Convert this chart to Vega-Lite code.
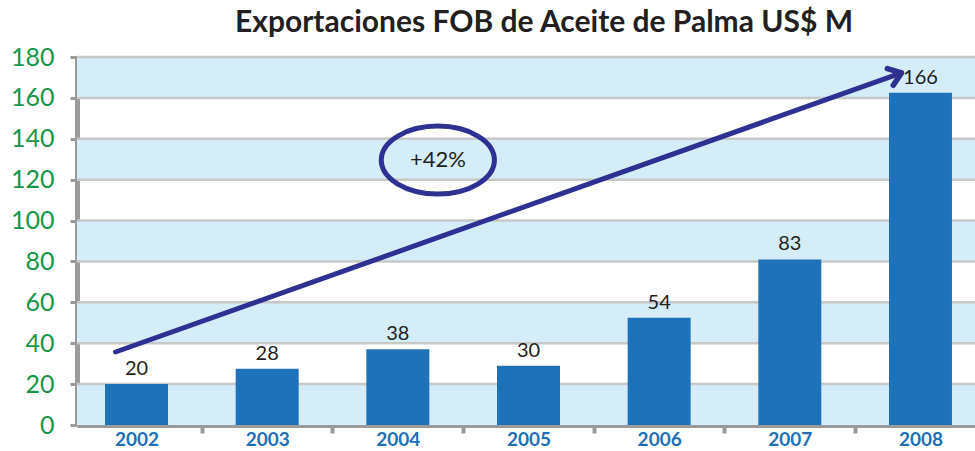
{
  "$schema": "https://vega.github.io/schema/vega-lite/v6.json",
  "width": 898,
  "height": 368,
  "autosize": {"type": "none"},
  "padding": {"left": 77, "top": 57, "right": 0, "bottom": 26},
  "background": "white",
  "config": {"view": {"stroke": null}, "font": "Lato"},
  "title": {
    "text": "Exportaciones FOB de Aceite de Palma US$ M",
    "font": "Lato",
    "fontSize": 30,
    "fontWeight": "bold",
    "color": "#231f20",
    "anchor": "middle",
    "frame": "group",
    "dx": 18,
    "dy": 31,
    "baseline": "alphabetic",
    "offset": 14
  },
  "datasets": {
    "years": [
      {"year": "2002", "bar": 20, "label": "20"},
      {"year": "2003", "bar": 27.5, "label": "28"},
      {"year": "2004", "bar": 37, "label": "38"},
      {"year": "2005", "bar": 29, "label": "30"},
      {"year": "2006", "bar": 52.5, "label": "54"},
      {"year": "2007", "bar": 81, "label": "83"},
      {"year": "2008", "bar": 162.5, "label": "166"}
    ],
    "bands": [
      {"lo": 0, "hi": 20},
      {"lo": 40, "hi": 60},
      {"lo": 80, "hi": 100},
      {"lo": 120, "hi": 140},
      {"lo": 160, "hi": 180}
    ],
    "grid": [{"v": 20}, {"v": 40}, {"v": 60}, {"v": 80}, {"v": 100}, {"v": 120}, {"v": 140}, {"v": 160}, {"v": 180}],
    "arrow": [{"from": "2002", "to": "2008", "y1": 35.7, "y2": 172.2}],
    "note": [{"year": "2004", "y": 129.6, "text": "+42%"}]
  },
  "layer": [
    {
      "data": {"name": "bands"},
      "mark": {"type": "rect", "color": "#d4edf9"},
      "encoding": {
        "y": {"field": "lo", "type": "quantitative", "scale": {"domain": [0, 180]}},
        "y2": {"field": "hi"}
      }
    },
    {
      "data": {"name": "grid"},
      "mark": {"type": "rule", "color": "#c8c8c8", "strokeWidth": 2.5},
      "encoding": {
        "y": {"field": "v", "type": "quantitative"}
      }
    },
    {
      "data": {"name": "years"},
      "mark": {"type": "bar", "color": "#1f71b8"},
      "encoding": {
        "x": {
          "field": "year", "type": "nominal",
          "scale": {"range": [0, 903], "paddingInner": 0.518, "paddingOuter": 0.2146},
          "axis": {
            "title": null,
            "labelAngle": 0,
            "labelFont": "Lato",
            "labelFontSize": 19,
            "labelFontWeight": "bold",
            "labelColor": "#1f6fb5",
            "labelPadding": 12,
            "labelBaseline": "alphabetic",
            "tickOffset": 65.3,
            "labelOffset": -65.3,
            "tickColor": "#9b9b9b",
            "tickWidth": 4,
            "tickSize": 8,
            "domainColor": "#9b9b9b",
            "domainWidth": 5,
            "grid": false
          }
        },
        "y": {
          "field": "bar", "type": "quantitative",
          "scale": {"domain": [0, 180]},
          "axis": {
            "title": null,
            "values": [0, 20, 40, 60, 80, 100, 120, 140, 160, 180],
            "labelFont": "Lato",
            "labelFontSize": 25,
            "labelColor": "#15964a",
            "labelPadding": 16,
            "tickColor": "#9b9b9b",
            "tickWidth": 3,
            "tickSize": 7,
            "domainColor": "#9b9b9b",
            "domainWidth": 5,
            "grid": false
          }
        }
      }
    },
    {
      "data": {"name": "years"},
      "mark": {"type": "text", "font": "Lato", "fontSize": 20, "color": "#231f20", "baseline": "bottom", "dy": -5},
      "encoding": {
        "x": {"field": "year", "type": "nominal"},
        "y": {"field": "bar", "type": "quantitative"},
        "text": {"field": "label"}
      }
    },
    {
      "data": {"name": "arrow"},
      "mark": {"type": "rule", "color": "#2e3192", "strokeWidth": 5, "strokeCap": "round", "xOffset": -21, "x2Offset": -19},
      "encoding": {
        "x": {"field": "from", "type": "nominal"},
        "x2": {"field": "to"},
        "y": {"field": "y1", "type": "quantitative"},
        "y2": {"field": "y2"}
      }
    },
    {
      "data": {"name": "arrow"},
      "mark": {"type": "point", "shape": "M -1 -0.75 L 0 0 L -1 0.75", "filled": false, "stroke": "#2e3192", "strokeWidth": 5.5, "strokeCap": "round", "strokeJoin": "round", "size": 560, "angle": 340.5, "opacity": 1, "xOffset": -19},
      "encoding": {
        "x": {"field": "to", "type": "nominal"},
        "y": {"field": "y2", "type": "quantitative"}
      }
    },
    {
      "data": {"name": "note"},
      "mark": {"type": "point", "shape": "M -1 0 A 1 0.6 0 1 1 1 0 A 1 0.6 0 1 1 -1 0 Z", "filled": false, "stroke": "#2e3192", "strokeWidth": 5, "size": 12800, "opacity": 1, "xOffset": 40},
      "encoding": {
        "x": {"field": "year", "type": "nominal"},
        "y": {"field": "y", "type": "quantitative"}
      }
    },
    {
      "data": {"name": "note"},
      "mark": {"type": "text", "font": "Lato", "fontSize": 22, "color": "#231f20", "xOffset": 40},
      "encoding": {
        "x": {"field": "year", "type": "nominal"},
        "y": {"field": "y", "type": "quantitative"},
        "text": {"field": "text"}
      }
    }
  ]
}
